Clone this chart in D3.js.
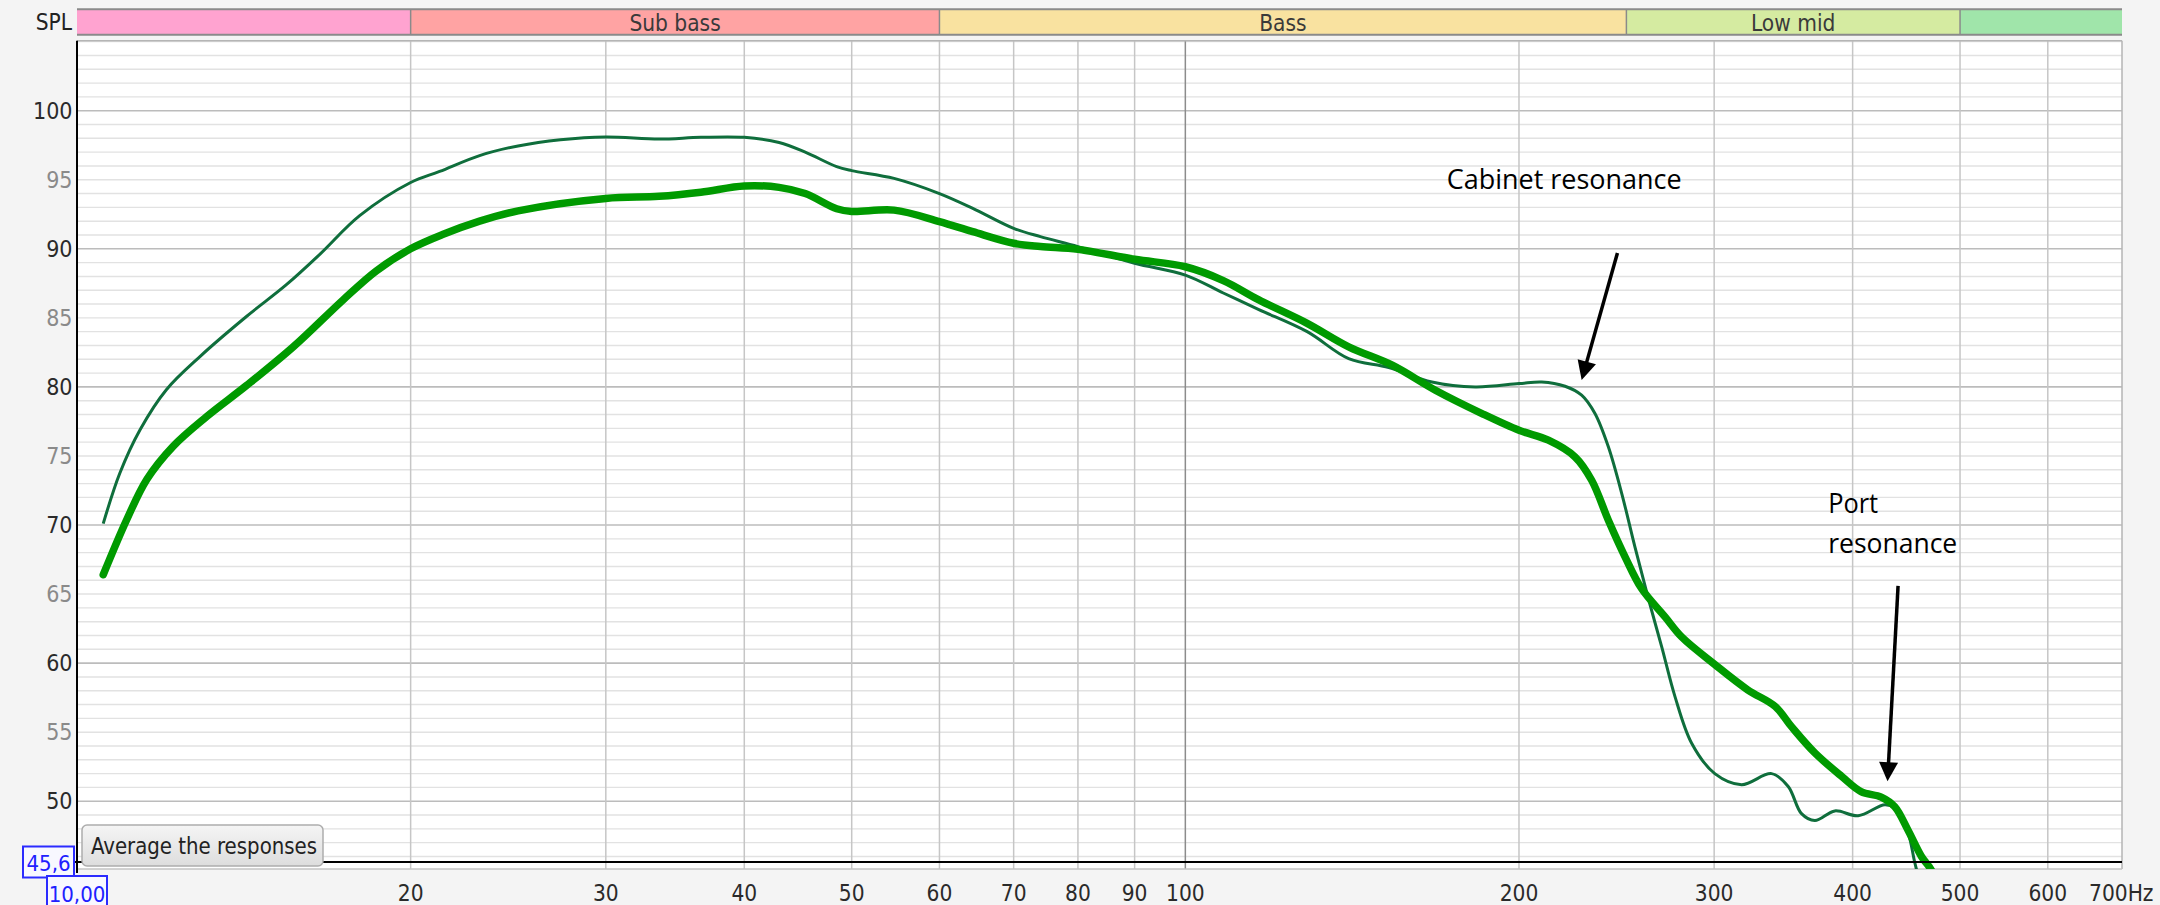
<!DOCTYPE html>
<html>
<head>
<meta charset="utf-8">
<script src="https://cdn.jsdelivr.net/npm/d3@7"></script>
<style>
  html, body { margin: 0; padding: 0; background: #f4f4f4; }
  svg { display: block; }
  .lbl { font-family: "Liberation Sans Narrow", "DejaVu Sans Condensed", "Liberation Sans", sans-serif; }
  .ann { font-family: "Open Sans", "Liberation Sans", sans-serif; }
</style>
</head>
<body>
<svg id="chart" width="2160" height="905"></svg>
<script>
// ---------------- data ----------------
const freqTicks = [20, 30, 40, 50, 60, 70, 80, 90, 100, 200, 300, 400, 500, 600, 700];
const freqTickLabels = ["20", "30", "40", "50", "60", "70", "80", "90", "100", "200", "300", "400", "500", "600", "700Hz"];
const splTicks = [100, 95, 90, 85, 80, 75, 70, 65, 60, 55, 50];
const splTickLabels = ["100", "95", "90", "85", "80", "75", "70", "65", "60", "55", "50"];

const bandNames = ["", "Sub bass", "Bass", "Low mid", ""];
const bandEdges = [10, 20, 60, 250, 500, 700];
const bandColors = ["#ffa3d0", "#ffa3a3", "#f9e2a0", "#d5eba1", "#a0e5aa"];

// individual response (thin, dark green)
const freqThin = [10.56, 10.93, 11.4, 12.04, 12.91, 14.22, 15.45, 16.56, 17.99, 20, 21.24, 23.08, 25.0, 27.3, 30,
  33.5, 36.55, 40, 43.0, 45.4, 48.46, 50, 54.6, 60, 64.3, 70, 74, 80, 90, 100, 108.2, 116.5, 128.8, 140.4,
  152.6, 166.9, 182.6, 200, 209.7, 220.1, 227.8, 234.2, 240.8, 247.6, 254.5, 261.6, 269, 276.6, 286.3,
  300.4, 317.6, 338.0, 349.9, 359.7, 369.8, 385.5, 404.6, 427.7, 436.6, 448.8, 455, 462];
const splThin = [70.1, 73.75, 76.9, 79.8, 82.2, 85.1, 87.4, 89.6, 92.4, 94.8, 95.6, 96.75, 97.45, 97.9, 98.1,
  97.95, 98.07, 98.07, 97.7, 97.0, 95.95, 95.66, 95.1, 94.0, 92.93, 91.48, 90.88, 90.16, 88.95, 88.1, 86.8, 85.6, 84.0, 82.05,
  81.4, 80.36, 80.0, 80.24, 80.36, 80.05, 79.4, 78.07, 75.66, 72.28, 68.4, 64.7, 61.2, 57.56, 54.2,
  52.0, 51.2, 52.0, 51.07, 49.1, 48.6, 49.3, 48.95, 49.75, 49.5, 47.7, 45.6, 43.5];

// averaged response (thick, bright green)
const freqAvg = [10.56, 11.09, 11.56, 12.21, 13.09, 14.22, 15.67, 17.38, 18.62, 20, 21.4, 23.08, 25.0, 30,
  33.5, 36.55, 40, 43.0, 45.4, 48.46, 50, 54.6, 60, 64.3, 70, 74, 80, 90, 100, 108.2, 116.5, 128.8, 140.4,
  153.7, 168.1, 185.2, 200, 212.6, 224.7, 232.6, 240.8, 249.3, 258, 270.9, 280.4, 300.4, 321.6, 340.6,
  352.3, 369.8, 391.0, 407.0, 424.5, 436.6, 448.8, 461.5, 471.2, 480];
const splAvg = [66.4, 70.4, 73.3, 75.7, 77.85, 80.1, 82.9, 86.3, 88.4, 90.0, 91.05, 92.0, 92.75, 93.65,
  93.8, 94.1, 94.55, 94.45, 94.0, 92.9, 92.7, 92.8, 91.97, 91.24, 90.4, 90.16, 89.96, 89.24, 88.7, 87.7, 86.3, 84.6, 82.9,
  81.57, 79.76, 78.07, 76.86, 76.14, 74.93, 73.24, 70.35, 67.7, 65.4, 63.35, 61.9, 59.9, 58.07, 56.86,
  55.4, 53.5, 51.8, 50.7, 50.3, 49.6, 47.9, 46.0, 45.0, 43.5];

const annotations = [
  { lines: ["Cabinet resonance"], widths: [235], f: 172.1, spl: 94.3, arrowFrom: [245.4, 89.7], arrowTo: [227.8, 80.5] },
  { lines: ["Port", "resonance"], widths: [50, 129], f: 380.2, spl: 70.9, arrowFrom: [439.6, 65.6], arrowTo: [430.1, 51.45] }
];

// ---------------- layout ----------------
const svg = d3.select("#chart");
const plotL = 77, plotR = 2122, plotT = 40.7, plotB = 869;
const x = d3.scaleLog().domain([10, 700]).range([plotL, plotR]);
const y = d3.scaleLinear().domain([45.6, 100]).range([862, 110.7]);
const yTop = y.invert(plotT);

// header bands
const hdrT = 9.3, hdrB = 34.7;
const bandG = svg.append("g");
bandNames.forEach((name, i) => {
  const x0 = x(bandEdges[i]), x1 = x(bandEdges[i + 1]);
  bandG.append("rect").attr("x", x0).attr("y", hdrT).attr("width", x1 - x0).attr("height", hdrB - hdrT)
    .attr("fill", bandColors[i]);
  if (i > 0) bandG.append("line").attr("x1", x0).attr("x2", x0).attr("y1", hdrT).attr("y2", hdrB)
    .attr("stroke", "#8a8a8a").attr("stroke-width", 1.5);
  if (name) bandG.append("text").attr("class", "lbl").attr("x", (x0 + x1) / 2).attr("y", (hdrT + hdrB) / 2 + 1)
    .attr("text-anchor", "middle").attr("dominant-baseline", "central").attr("font-size", 22.5)
    .attr("fill", "#3a3a3a").text(name);
});
bandG.append("line").attr("x1", plotL).attr("x2", plotR).attr("y1", hdrT).attr("y2", hdrT).attr("stroke", "#8a8a8a").attr("stroke-width", 2);
bandG.append("line").attr("x1", plotL).attr("x2", plotR).attr("y1", hdrB).attr("y2", hdrB).attr("stroke", "#8a8a8a").attr("stroke-width", 2);

svg.append("text").attr("class", "lbl").attr("x", 72).attr("y", 22).attr("text-anchor", "end")
  .attr("dominant-baseline", "central").attr("font-size", 22.5).attr("fill", "#222").text("SPL");

// plot background
svg.append("rect").attr("x", plotL).attr("y", plotT).attr("width", plotR - plotL).attr("height", plotB - plotT).attr("fill", "#fff");

// horizontal grid (1 dB minor, 10 dB major)
const gridG = svg.append("g");
const minorVals = d3.range(46, 106, 1).filter(v => v <= yTop);
gridG.selectAll("line.hminor").data(minorVals).join("line")
  .attr("x1", plotL).attr("x2", plotR).attr("y1", d => y(d)).attr("y2", d => y(d))
  .attr("stroke", d => d % 10 === 0 ? "#bcbcbc" : "#e2e2e2").attr("stroke-width", d => d % 10 === 0 ? 1.6 : 1.4);

// vertical grid
gridG.selectAll("line.v").data(freqTicks.filter(f => f < 700)).join("line")
  .attr("x1", d => x(d)).attr("x2", d => x(d)).attr("y1", plotT).attr("y2", plotB)
  .attr("stroke", d => d === 100 ? "#8c8c8c" : "#c6c6c6").attr("stroke-width", 1.5);

// plot border
svg.append("line").attr("x1", plotL).attr("x2", plotR).attr("y1", plotT).attr("y2", plotT).attr("stroke", "#b5b5b5").attr("stroke-width", 1.5);
svg.append("line").attr("x1", plotR).attr("x2", plotR).attr("y1", plotT).attr("y2", plotB).attr("stroke", "#b5b5b5").attr("stroke-width", 1.5);
svg.append("line").attr("x1", plotL).attr("x2", plotR).attr("y1", plotB).attr("y2", plotB).attr("stroke", "#c4c4c4").attr("stroke-width", 1.5);

// clip
svg.append("clipPath").attr("id", "clip").append("rect")
  .attr("x", plotL).attr("y", plotT).attr("width", plotR - plotL).attr("height", plotB - plotT);

const line = d3.line().x(d => x(d[0])).y(d => y(d[1])).curve(d3.curveCatmullRom.alpha(0.5));
const curveG = svg.append("g").attr("clip-path", "url(#clip)");
curveG.append("path").datum(freqThin.map((f, i) => [f, splThin[i]])).attr("d", line)
  .attr("fill", "none").attr("stroke", "#0f6e3c").attr("stroke-width", 3).attr("stroke-linejoin", "round");
curveG.append("path").datum(freqAvg.map((f, i) => [f, splAvg[i]])).attr("d", line)
  .attr("fill", "none").attr("stroke", "#009a00").attr("stroke-width", 7.5).attr("stroke-linecap", "round").attr("stroke-linejoin", "round");

// bottom reference line (45.6) and left axis
svg.append("line").attr("x1", plotL - 4).attr("x2", plotR).attr("y1", y(45.6)).attr("y2", y(45.6)).attr("stroke", "#000").attr("stroke-width", 2);
svg.append("line").attr("x1", plotL).attr("x2", plotL).attr("y1", plotT).attr("y2", plotB + 4).attr("stroke", "#000").attr("stroke-width", 2);

// y tick labels
svg.selectAll("text.ytick").data(splTicks).join("text").attr("class", "lbl")
  .attr("x", 72.5).attr("y", d => y(d)).attr("text-anchor", "end").attr("dominant-baseline", "central")
  .attr("font-size", 23).attr("fill", d => d % 10 === 0 ? "#2a2a2a" : "#8a8a8a")
  .text((d, i) => splTickLabels[i]);

// x tick labels
svg.selectAll("text.xtick").data(freqTicks).join("text").attr("class", "lbl")
  .attr("x", (d, i) => i === freqTicks.length - 1 ? x(d) - 33 : x(d))
  .attr("y", 893).attr("text-anchor", (d, i) => i === freqTicks.length - 1 ? "start" : "middle")
  .attr("dominant-baseline", "central").attr("font-size", 22.5).attr("fill", "#2a2a2a")
  .text((d, i) => freqTickLabels[i]);

// cursor value boxes
function valueBox(bx, by, bw, bh, txt) {
  svg.append("rect").attr("x", bx).attr("y", by).attr("width", bw).attr("height", bh)
    .attr("fill", "#f8f8ff").attr("stroke", "#2b2bff").attr("stroke-width", 2);
  svg.append("text").attr("class", "lbl").attr("x", bx + bw / 2).attr("y", by + bh / 2 + 1)
    .attr("text-anchor", "middle").attr("dominant-baseline", "central").attr("font-size", 22)
    .attr("fill", "#2020ff").text(txt);
}
valueBox(23, 846.5, 51, 31, "45,6");
valueBox(47, 876, 60, 34, "10,00");

// button
const defs = svg.append("defs");
const grad = defs.append("linearGradient").attr("id", "btn").attr("x1", 0).attr("x2", 0).attr("y1", 0).attr("y2", 1);
grad.append("stop").attr("offset", "0%").attr("stop-color", "#f5f5f5");
grad.append("stop").attr("offset", "100%").attr("stop-color", "#dddddd");
svg.append("rect").attr("x", 82).attr("y", 825).attr("width", 241).attr("height", 41).attr("rx", 5)
  .attr("fill", "url(#btn)").attr("stroke", "#adadad").attr("stroke-width", 1.5);
svg.append("text").attr("class", "lbl").attr("x", 91).attr("y", 846).attr("dominant-baseline", "central")
  .attr("font-size", 23).attr("fill", "#222").attr("textLength", 226).attr("lengthAdjust", "spacingAndGlyphs")
  .text("Average the responses");

// annotations
annotations.forEach(a => {
  a.lines.forEach((t, k) => {
    svg.append("text").attr("class", "ann").attr("x", x(a.f)).attr("y", y(a.spl) + k * 40)
      .attr("font-size", 28).attr("fill", "#000")
      .attr("textLength", a.widths[k]).attr("lengthAdjust", "spacingAndGlyphs").text(t);
  });
  const x0 = x(a.arrowFrom[0]), y0 = y(a.arrowFrom[1]), x1 = x(a.arrowTo[0]), y1 = y(a.arrowTo[1]);
  const dx = x1 - x0, dy = y1 - y0, len = Math.hypot(dx, dy), ux = dx / len, uy = dy / len;
  const hl = 19, hw = 9.5;
  const bxp = x1 - ux * hl, byp = y1 - uy * hl;
  svg.append("line").attr("x1", x0).attr("y1", y0).attr("x2", bxp + ux * 2).attr("y2", byp + uy * 2)
    .attr("stroke", "#000").attr("stroke-width", 3.5);
  svg.append("path").attr("d", `M${x1},${y1}L${bxp - uy * hw},${byp + ux * hw}L${bxp + uy * hw},${byp - ux * hw}Z`)
    .attr("fill", "#000");
});
</script>
</body>
</html>
